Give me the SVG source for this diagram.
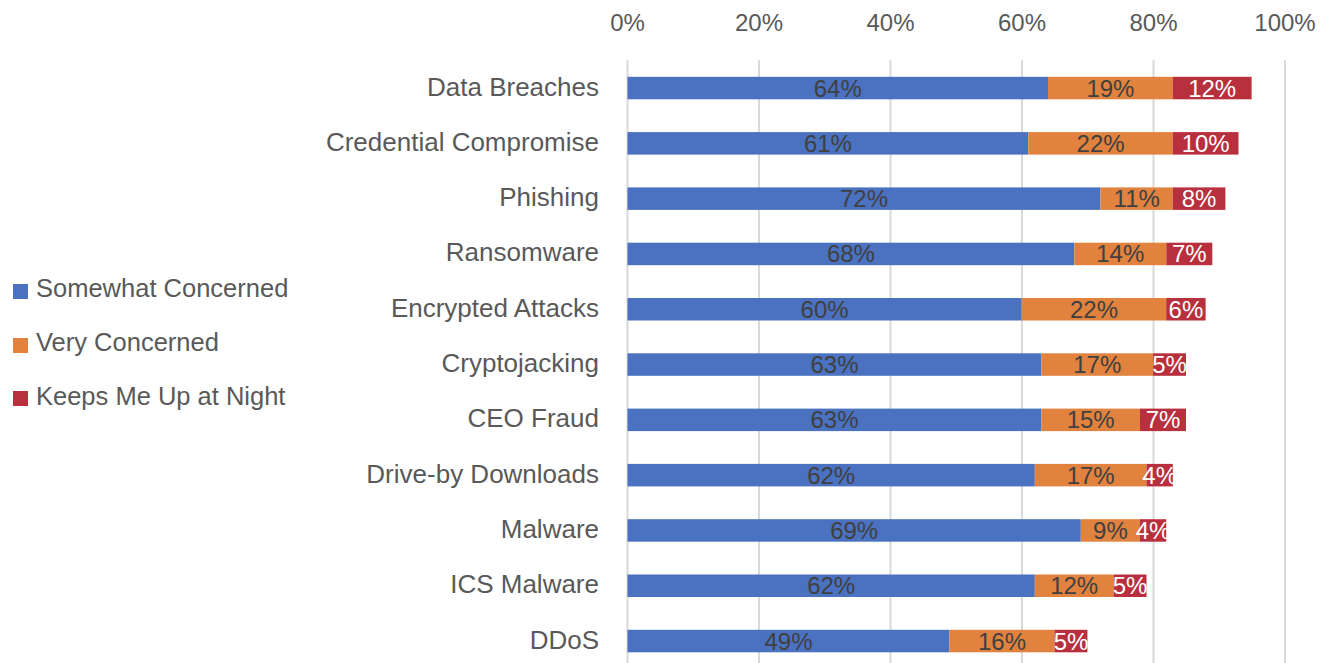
<svg xmlns="http://www.w3.org/2000/svg" width="1332" height="663" viewBox="0 0 1332 663">
<style>
text{font-family:"Liberation Sans",Arial,sans-serif}
.ax{font-size:24px;fill:#595959;text-anchor:middle}
.cat{font-size:26px;fill:#595959;text-anchor:end}
.lg{font-size:25.5px;fill:#595959}
.grid{stroke:#d9d9d9;stroke-width:2}
.b{fill:#4A72C0}.o{fill:#E1823F}.r{fill:#B82F3E}
.v{font-size:24px;fill:#404040;text-anchor:middle}
.w{font-size:24px;fill:#ffffff;text-anchor:middle}
</style>
<rect width="1332" height="663" fill="#ffffff"/>
<g id="axis">
<line class="grid" x1="627.5" y1="60" x2="627.5" y2="663"/>
<line class="grid" x1="759" y1="60" x2="759" y2="663"/>
<line class="grid" x1="890.5" y1="60" x2="890.5" y2="663"/>
<line class="grid" x1="1022" y1="60" x2="1022" y2="663"/>
<line class="grid" x1="1153.5" y1="60" x2="1153.5" y2="663"/>
<line class="grid" x1="1285" y1="60" x2="1285" y2="663"/>
<text class="ax" x="627.5" y="31">0%</text>
<text class="ax" x="759" y="31">20%</text>
<text class="ax" x="890.5" y="31">40%</text>
<text class="ax" x="1022" y="31">60%</text>
<text class="ax" x="1153.5" y="31">80%</text>
<text class="ax" x="1285" y="31">100%</text>
</g>
<g id="legend">
<rect class="b" x="13" y="284" width="15" height="15"/>
<text class="lg" x="36" y="297">Somewhat Concerned</text>
<rect class="o" x="13" y="338" width="15" height="15"/>
<text class="lg" x="36" y="351">Very Concerned</text>
<rect class="r" x="13" y="391" width="15" height="15"/>
<text class="lg" x="36" y="405">Keeps Me Up at Night</text>
</g>
<g id="bar-data-breaches">
<text class="cat" x="599" y="95.5">Data Breaches</text>
<rect class="b" x="627.5" y="76.8" width="420.5" height="22.5"/>
<rect class="o" x="1048" y="76.8" width="124.8" height="22.5"/>
<rect class="r" x="1172.8" y="76.8" width="78.8" height="22.5"/>
<text class="v" x="837.8" y="96.5">64%</text>
<text class="v" x="1110.4" y="96.5">19%</text>
<text class="w" x="1212.2" y="96.5">12%</text>
</g>
<g id="bar-credential-compromise">
<text class="cat" x="599" y="150.8">Credential Compromise</text>
<rect class="b" x="627.5" y="132.1" width="400.8" height="22.5"/>
<rect class="o" x="1028.3" y="132.1" width="144.5" height="22.5"/>
<rect class="r" x="1172.8" y="132.1" width="65.7" height="22.5"/>
<text class="v" x="827.9" y="151.8">61%</text>
<text class="v" x="1100.6" y="151.8">22%</text>
<text class="w" x="1205.7" y="151.8">10%</text>
</g>
<g id="bar-phishing">
<text class="cat" x="599" y="206.1">Phishing</text>
<rect class="b" x="627.5" y="187.4" width="473" height="22.5"/>
<rect class="o" x="1100.5" y="187.4" width="72.3" height="22.5"/>
<rect class="r" x="1172.8" y="187.4" width="52.6" height="22.5"/>
<text class="v" x="864" y="207.1">72%</text>
<text class="v" x="1136.7" y="207.1">11%</text>
<text class="w" x="1199.1" y="207.1">8%</text>
</g>
<g id="bar-ransomware">
<text class="cat" x="599" y="261.4">Ransomware</text>
<rect class="b" x="627.5" y="242.7" width="446.8" height="22.5"/>
<rect class="o" x="1074.3" y="242.7" width="92" height="22.5"/>
<rect class="r" x="1166.3" y="242.7" width="46" height="22.5"/>
<text class="v" x="850.9" y="262.4">68%</text>
<text class="v" x="1120.3" y="262.4">14%</text>
<text class="w" x="1189.3" y="262.4">7%</text>
</g>
<g id="bar-encrypted-attacks">
<text class="cat" x="599" y="316.7">Encrypted Attacks</text>
<rect class="b" x="627.5" y="298" width="394.2" height="22.5"/>
<rect class="o" x="1021.7" y="298" width="144.5" height="22.5"/>
<rect class="r" x="1166.2" y="298" width="39.4" height="22.5"/>
<text class="v" x="824.6" y="317.7">60%</text>
<text class="v" x="1094" y="317.7">22%</text>
<text class="w" x="1185.9" y="317.7">6%</text>
</g>
<g id="bar-cryptojacking">
<text class="cat" x="599" y="372">Cryptojacking</text>
<rect class="b" x="627.5" y="353.3" width="413.9" height="22.5"/>
<rect class="o" x="1041.4" y="353.3" width="111.7" height="22.5"/>
<rect class="r" x="1153.1" y="353.3" width="32.9" height="22.5"/>
<text class="v" x="834.5" y="373">63%</text>
<text class="v" x="1097.3" y="373">17%</text>
<text class="w" x="1169.5" y="373">5%</text>
</g>
<g id="bar-ceo-fraud">
<text class="cat" x="599" y="427.3">CEO Fraud</text>
<rect class="b" x="627.5" y="408.6" width="413.9" height="22.5"/>
<rect class="o" x="1041.4" y="408.6" width="98.6" height="22.5"/>
<rect class="r" x="1140" y="408.6" width="46" height="22.5"/>
<text class="v" x="834.5" y="428.3">63%</text>
<text class="v" x="1090.7" y="428.3">15%</text>
<text class="w" x="1163" y="428.3">7%</text>
</g>
<g id="bar-drive-by-downloads">
<text class="cat" x="599" y="482.6">Drive-by Downloads</text>
<rect class="b" x="627.5" y="463.9" width="407.3" height="22.5"/>
<rect class="o" x="1034.8" y="463.9" width="111.7" height="22.5"/>
<rect class="r" x="1146.5" y="463.9" width="26.3" height="22.5"/>
<text class="v" x="831.2" y="483.6">62%</text>
<text class="v" x="1090.7" y="483.6">17%</text>
<text class="w" x="1159.7" y="483.6">4%</text>
</g>
<g id="bar-malware">
<text class="cat" x="599" y="537.9">Malware</text>
<rect class="b" x="627.5" y="519.2" width="453.3" height="22.5"/>
<rect class="o" x="1080.8" y="519.2" width="59.1" height="22.5"/>
<rect class="r" x="1139.9" y="519.2" width="26.3" height="22.5"/>
<text class="v" x="854.2" y="538.9">69%</text>
<text class="v" x="1110.4" y="538.9">9%</text>
<text class="w" x="1153" y="538.9">4%</text>
</g>
<g id="bar-ics-malware">
<text class="cat" x="599" y="593.2">ICS Malware</text>
<rect class="b" x="627.5" y="574.5" width="407.3" height="22.5"/>
<rect class="o" x="1034.8" y="574.5" width="78.8" height="22.5"/>
<rect class="r" x="1113.6" y="574.5" width="32.9" height="22.5"/>
<text class="v" x="831.2" y="594.2">62%</text>
<text class="v" x="1074.2" y="594.2">12%</text>
<text class="w" x="1130" y="594.2">5%</text>
</g>
<g id="bar-ddos">
<text class="cat" x="599" y="648.5">DDoS</text>
<rect class="b" x="627.5" y="629.8" width="321.9" height="22.5"/>
<rect class="o" x="949.4" y="629.8" width="105.1" height="22.5"/>
<rect class="r" x="1054.5" y="629.8" width="32.9" height="22.5"/>
<text class="v" x="788.5" y="649.5">49%</text>
<text class="v" x="1002" y="649.5">16%</text>
<text class="w" x="1071" y="649.5">5%</text>
</g>
</svg>
